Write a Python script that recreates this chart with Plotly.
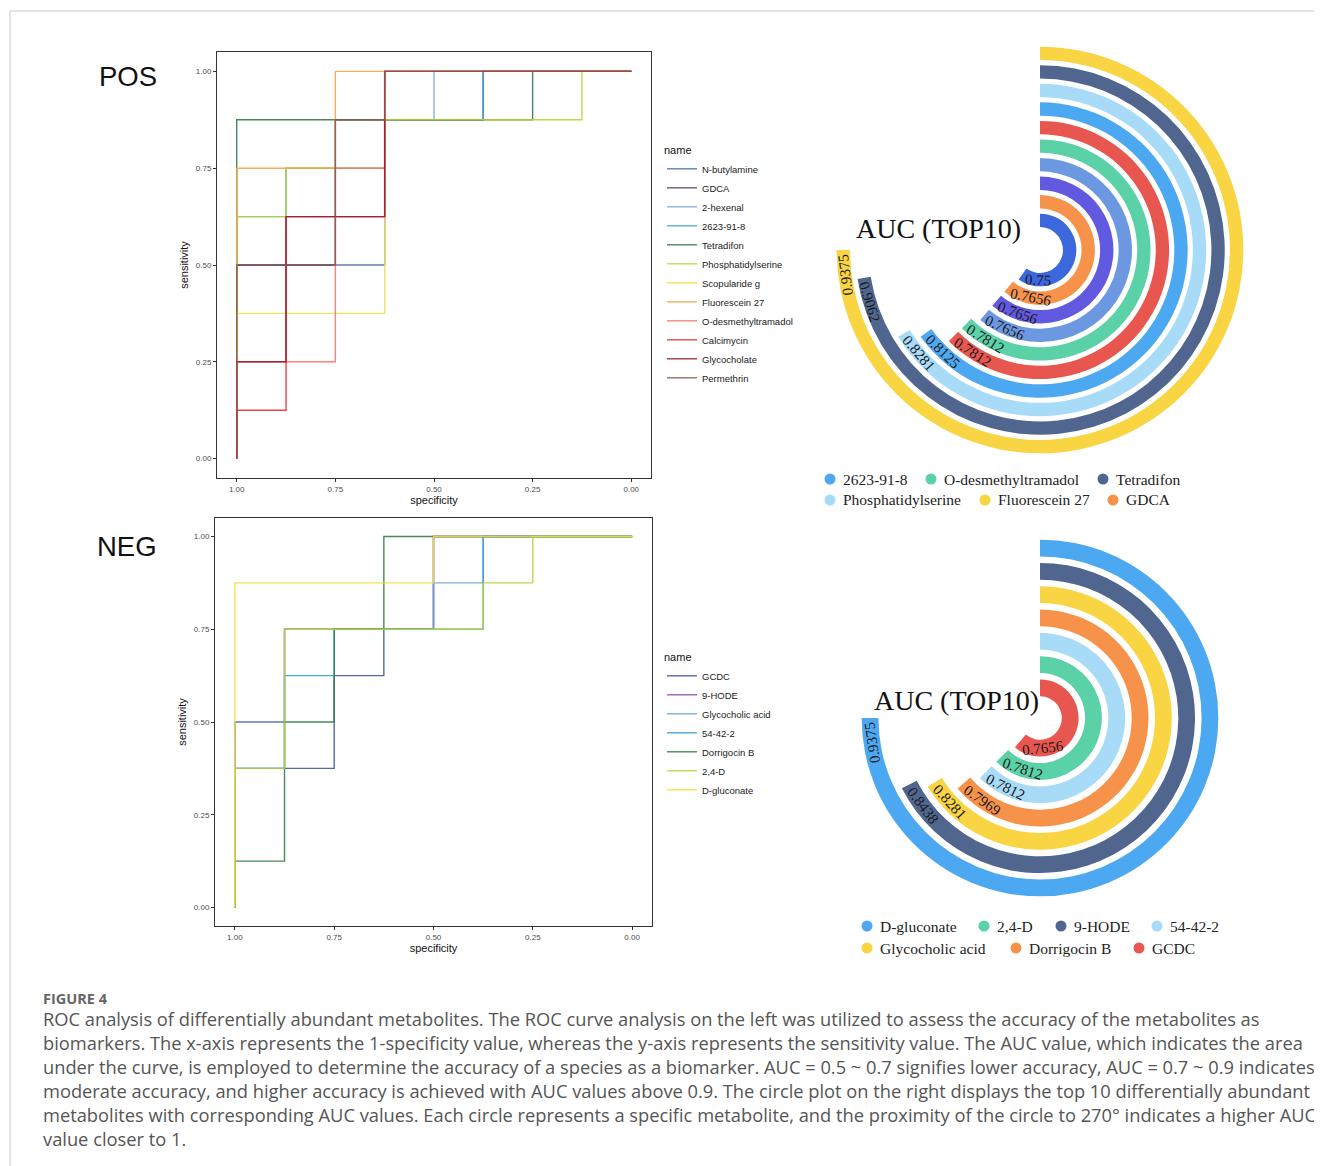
import math
import plotly.graph_objects as go

REF_W, REF_H = 1322, 1166
OFF = 8  # page body margin of the html page
W, H = REF_W - OFF, REF_H - OFF

# ---------------- POS ROC curves (specificity / sensitivity) ----------------
POS_NAMES = ["N-butylamine", "GDCA", "2-hexenal", "2623-91-8", "Tetradifon",
             "Phosphatidylserine", "Scopularide g", "Fluorescein 27",
             "O-desmethyltramadol", "Calcimycin", "Glycocholate", "Permethrin"]
POS_COLORS = ["#4A6FA5", "#5E3C6E", "#7EA6E0", "#41A8CF", "#2E7A46",
              "#B9D32E", "#F2DC45", "#F6A340", "#F3776B", "#E62E2E",
              "#A11B2C", "#8A5A55"]
POS_SPEC = [
    [1, 1, .625, .625, .375, .375, 0],
    [1, 1, .75, .75, .375, .375, 0],
    [1, 1, .875, .875, .625, .625, .5, .5, 0],
    [1, 1, .875, .875, .625, .625, .375, .375, 0],
    [1, 1, .25, .25, 0],
    [1, 1, .875, .875, .625, .625, .125, .125, 0],
    [1, 1, .625, .625, 0],
    [1, 1, .75, .75, 0],
    [1, 1, .75, .75, .625, .625, 0],
    [1, 1, .875, .875, .625, .625, 0],
    [1, 1, .875, .875, .625, .625, 0],
    [1, 1, .75, .75, .625, .625, 0],
]
POS_SENS = [
    [0, .5, .5, .875, .875, 1, 1],
    [0, .5, .5, .875, .875, 1, 1],
    [0, .25, .25, .625, .625, .875, .875, 1, 1],
    [0, .625, .625, .75, .75, .875, .875, 1, 1],
    [0, .875, .875, 1, 1],
    [0, .625, .625, .75, .75, .875, .875, 1, 1],
    [0, .375, .375, 1, 1],
    [0, .75, .75, 1, 1],
    [0, .25, .25, .75, .75, 1, 1],
    [0, .125, .125, .625, .625, 1, 1],
    [0, .25, .25, .625, .625, 1, 1],
    [0, .5, .5, .875, .875, 1, 1],
]

# ---------------- NEG ROC curves ----------------
NEG_NAMES = ["GCDC", "9-HODE", "Glycocholic acid", "54-42-2", "Dorrigocin B",
             "2,4-D", "D-gluconate"]
NEG_COLORS = ["#3A55A4", "#8E4FA3", "#6FA0DC", "#2E9FD0", "#2E7D3E",
              "#B8D435", "#F3E03B"]
NEG_SPEC = [
    [1, 1, .75, .75, .625, .625, .5, .5, 0],
    [1, 1, .875, .875, .5, .5, 0],
    [1, 1, .875, .875, .5, .5, .375, .375, 0],
    [1, 1, .875, .875, .75, .75, .375, .375, 0],
    [1, 1, .875, .875, .75, .75, .625, .625, 0],
    [1, 1, .875, .875, .375, .375, .25, .25, 0],
    [1, 1, .5, .5, 0],
]
NEG_SENS = [
    [0, .375, .375, .625, .625, .75, .75, 1, 1],
    [0, .5, .5, .75, .75, 1, 1],
    [0, .5, .5, .75, .75, .875, .875, 1, 1],
    [0, .375, .375, .625, .625, .75, .75, 1, 1],
    [0, .125, .125, .5, .5, .75, .75, 1, 1],
    [0, .375, .375, .75, .75, .875, .875, 1, 1],
    [0, .875, .875, 1, 1],
]

ROC_TICKS = [1, 0.75, 0.5, 0.25, 0]
ROC_TICKTEXT = ["1.00", "0.75", "0.50", "0.25", "0.00"]

# ---------------- AUC (TOP10) radial bars, inner -> outer ----------------
POS_AUC_NAMES = ["Scopularide g", "GDCA", "2-hexenal", "N-butylamine",
                 "O-desmethyltramadol", "Calcimycin", "2623-91-8",
                 "Phosphatidylserine", "Tetradifon", "Fluorescein 27"]
POS_AUC = [0.75, 0.7656, 0.7656, 0.7656, 0.7812, 0.7812, 0.8125, 0.8281, 0.9062, 0.9375]
POS_AUC_COLORS = ["#3D67DD", "#F7924A", "#6159E0", "#6C98E2", "#5BD1A8",
                  "#E8574F", "#4DA8F2", "#A7DBF8", "#51668F", "#F9D443"]
POS_LEGEND = ["2623-91-8", "O-desmethyltramadol", "Tetradifon",
              "Phosphatidylserine", "Fluorescein 27", "GDCA"]

NEG_AUC_NAMES = ["GCDC", "2,4-D", "54-42-2", "Dorrigocin B", "Glycocholic acid",
                 "9-HODE", "D-gluconate"]
NEG_AUC = [0.7656, 0.7812, 0.7812, 0.7969, 0.8281, 0.8438, 0.9375]
NEG_AUC_COLORS = ["#E8574F", "#5BD1A8", "#A7DBF8", "#F7924A", "#F9D443",
                  "#51668F", "#4DA8F2"]
NEG_LEGEND = ["D-gluconate", "2,4-D", "9-HODE", "54-42-2",
              "Glycocholic acid", "Dorrigocin B", "GCDC"]

ANG_MAX = 1.25  # angular axis maximum (value mapped to a full turn)

CAPTION = [
    "ROC analysis of differentially abundant metabolites. The ROC curve analysis on the left was utilized to assess the accuracy of the metabolites as",
    "biomarkers. The x-axis represents the 1-specificity value, whereas the y-axis represents the sensitivity value. The AUC value, which indicates the area",
    "under the curve, is employed to determine the accuracy of a species as a biomarker. AUC = 0.5 ~ 0.7 signifies lower accuracy, AUC = 0.7 ~ 0.9 indicates",
    "moderate accuracy, and higher accuracy is achieved with AUC values above 0.9. The circle plot on the right displays the top 10 differentially abundant",
    "metabolites with corresponding AUC values. Each circle represents a specific metabolite, and the proximity of the circle to 270° indicates a higher AUC",
    "value closer to 1.",
]

fig = go.Figure()
annotations = []
shapes = []


def px(x):
    return (x - OFF) / W


def py(y):
    return 1 - (y - OFF) / H


# ---------- ROC panels ----------
def add_roc(names, colors, specs, senss, xa, ya, legend):
    for n, c, s, t in zip(names, colors, specs, senss):
        fig.add_trace(go.Scatter(x=s, y=t, mode="lines", name=n,
                                 line=dict(color=c, width=1.4), opacity=0.88,
                                 xaxis=xa, yaxis=ya, legend=legend))


add_roc(POS_NAMES, POS_COLORS, POS_SPEC, POS_SENS, "x", "y", "legend")
add_roc(NEG_NAMES, NEG_COLORS, NEG_SPEC, NEG_SENS, "x2", "y2", "legend2")

axis_common = dict(showgrid=False, zeroline=False, showline=True, mirror=True,
                   linecolor="#333333", linewidth=1, ticks="outside", ticklen=3,
                   tickcolor="#333333", tickwidth=0.8,
                   tickfont=dict(family="Liberation Sans", size=8, color="#4D4D4D"),
                   tickvals=ROC_TICKS, ticktext=ROC_TICKTEXT)
title_font = dict(family="Liberation Sans", size=11, color="#111111")

fig.update_layout(
    xaxis=dict(domain=[px(217), px(651)], range=[1.05, -0.05], anchor="y",
               title=dict(text="specificity", font=title_font, standoff=2), **axis_common),
    yaxis=dict(domain=[py(478), py(52)], range=[-0.05, 1.05], anchor="x",
               title=dict(text="sensitivity", font=title_font, standoff=4), **axis_common),
    xaxis2=dict(domain=[px(215), px(652)], range=[1.05, -0.05], anchor="y2",
                title=dict(text="specificity", font=title_font, standoff=2), **axis_common),
    yaxis2=dict(domain=[py(926), py(518)], range=[-0.05, 1.05], anchor="x2",
                title=dict(text="sensitivity", font=title_font, standoff=4), **axis_common),
)

legend_common = dict(xanchor="left", yanchor="top", bgcolor="rgba(0,0,0,0)",
                     tracegroupgap=0, itemwidth=30,
                     font=dict(family="Liberation Sans", size=9.5, color="#222222"))
fig.update_layout(
    legend=dict(x=px(662), y=py(140),
                title=dict(text="name", font=dict(family="Liberation Sans", size=11, color="#111")),
                **legend_common),
    legend2=dict(x=px(662), y=py(647),
                 title=dict(text="name", font=dict(family="Liberation Sans", size=11, color="#111")),
                 **legend_common),
)


# ---------- Radial AUC charts ----------
def add_radial(pid, cx, cy, D, hole, names, aucs, colors, legend_names, legend_rows,
               legend_y, title_right, title_y):
    n = len(aucs)
    degs = [a * 360.0 / ANG_MAX for a in aucs]
    for i, (nm, a, d, c) in enumerate(zip(names, aucs, degs, colors)):
        fig.add_trace(go.Barpolar(r=[0.72], base=[i + 0.14], theta=[d / 2], width=[d],
                                  marker=dict(color=c, line=dict(width=0)),
                                  name=nm, subplot=pid, showlegend=False,
                                  hovertemplate=nm + ": " + str(a) + "<extra></extra>"))
        # value label at bar end, along the arc
        rpx = D * hole + (D - D * hole) * (i + 0.5) / n
        txt = str(a)
        tw = (len(txt) - 1) * 7.5 + 3.75
        th = d - math.degrees((tw / 2 + 4) / rpx)
        x = cx + rpx * math.sin(math.radians(th))
        y = cy - rpx * math.cos(math.radians(th))
        ta = th - 180
        if 78 < ta < 89:
            ta -= 180
        annotations.append(dict(x=px(x), y=py(y), xref="paper", yref="paper",
                                text=txt, showarrow=False, textangle=ta,
                                xanchor="center", yanchor="middle",
                                font=dict(family="Liberation Serif", size=15, color="#1a1a1a")))
    fig.update_layout(**{pid: dict(
        domain=dict(x=[px(cx - D), px(cx + D)], y=[py(cy + D), py(cy - D)]),
        hole=hole, bgcolor="rgba(0,0,0,0)",
        radialaxis=dict(range=[0, n], showline=False, showticklabels=False,
                        ticks="", showgrid=False),
        angularaxis=dict(rotation=90, direction="clockwise", showline=False,
                         showticklabels=False, ticks="", showgrid=False),
    )})
    annotations.append(dict(x=px(title_right), y=py(title_y), xref="paper", yref="paper",
                            text="AUC (TOP10)", showarrow=False, xanchor="right",
                            yanchor="middle",
                            font=dict(family="Liberation Serif", size=28, color="#111")))
    # legend: circle key + name
    k = 0
    for row_i, row_x in enumerate(legend_rows):
        yy = legend_y[row_i]
        for xx in row_x:
            nm = legend_names[k]
            c = colors[names.index(nm)]
            shapes.append(dict(type="circle", xref="paper", yref="paper",
                               x0=px(xx - 5.5), x1=px(xx + 5.5),
                               y0=py(yy + 5.5), y1=py(yy - 5.5),
                               fillcolor=c, line=dict(width=0)))
            annotations.append(dict(
                x=px(xx + 11), y=py(yy), xref="paper", yref="paper",
                text=nm, showarrow=False, xanchor="left", yanchor="middle",
                font=dict(family="Liberation Serif", size=15.5, color="#222")))
            k += 1


add_radial("polar", 1040, 250, 205.9, 0.099, POS_AUC_NAMES, POS_AUC, POS_AUC_COLORS,
           POS_LEGEND, [[830, 931, 1103], [830, 985, 1113]], [479, 500], 1023, 229)
add_radial("polar2", 1040, 718, 181.6, 0.102, NEG_AUC_NAMES, NEG_AUC, NEG_AUC_COLORS,
           NEG_LEGEND, [[867, 984, 1061, 1157], [867, 1016, 1139]], [926, 948], 1041, 700)

# ---------- Panel labels ----------
annotations.append(dict(x=px(128), y=py(77), xref="paper", yref="paper", text="POS",
                        showarrow=False, xanchor="center", yanchor="middle",
                        font=dict(family="Liberation Sans", size=27.5, color="#111")))
annotations.append(dict(x=px(127), y=py(546), xref="paper", yref="paper", text="NEG",
                        showarrow=False, xanchor="center", yanchor="middle",
                        font=dict(family="Liberation Sans", size=27.5, color="#111")))

# ---------- Caption ----------
annotations.append(dict(x=px(41), y=py(998), xref="paper", yref="paper", text="<b>FIGURE 4</b>",
                        showarrow=False, xanchor="left", yanchor="middle",
                        font=dict(family="Open Sans", size=14.5, color="#666666")))
for i, line in enumerate(CAPTION):
    annotations.append(dict(x=px(41), y=py(1018 + 24 * i), xref="paper", yref="paper",
                            text=line, showarrow=False, xanchor="left", yanchor="middle",
                            font=dict(family="Open Sans", size=18.3, color="#555555")))

# ---------- outer frame lines ----------
shapes.append(dict(type="line", xref="paper", yref="paper", x0=px(10), x1=1, y0=py(11), y1=py(11),
                   line=dict(color="#C8C8C8", width=1)))
shapes.append(dict(type="line", xref="paper", yref="paper", x0=px(10), x1=px(10), y0=py(11), y1=0,
                   line=dict(color="#C8C8C8", width=1)))

fig.update_layout(width=W, height=H, margin=dict(l=0, r=0, t=0, b=0),
                  paper_bgcolor="white", plot_bgcolor="white",
                  annotations=annotations, shapes=shapes)

fig.write_html("out.html")
